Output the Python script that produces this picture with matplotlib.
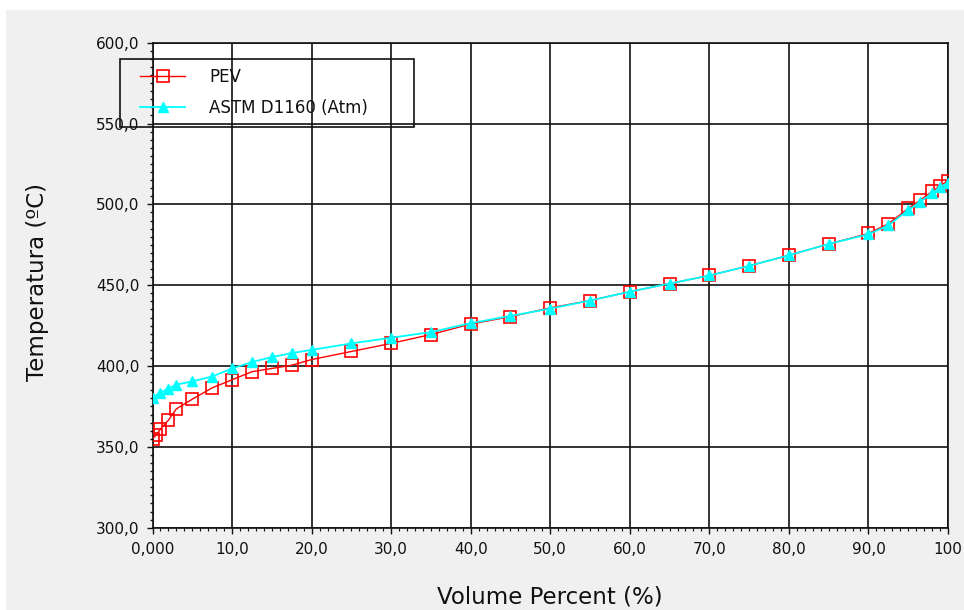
import numpy as np
import matplotlib
matplotlib.use('Agg')
import matplotlib.pyplot as plt
from matplotlib.patches import Rectangle
from matplotlib.ticker import MultipleLocator

# PEV (TBP) curve - volume percent vs temperature
pev_x = [0, 0.5, 1, 2, 3, 5, 7.5, 10, 12.5, 15, 17.5, 20, 25, 30, 35, 40, 45,
         50, 55, 60, 65, 70, 75, 80, 85, 90, 92.5, 95, 96.5, 98, 99, 100]
pev_t = [355, 357.5, 361, 366.5, 373.5, 379.5, 386.5, 391.5, 396.5, 398.5, 400.5,
         404, 409, 414, 419.5, 426, 430.5, 436, 440.5, 446, 451, 456, 462,
         468.5, 475.5, 482, 488, 497.5, 502.5, 508, 511.5, 514.5]

# ASTM D1160 (Atm) curve
astm_x = [0, 1, 2, 3, 5, 7.5, 10, 12.5, 15, 17.5, 20, 25, 30, 35, 40, 45,
          50, 55, 60, 65, 70, 75, 80, 85, 90, 92.5, 95, 96.5, 98, 99, 100]
astm_t = [380.5, 383.5, 386, 388.5, 390.5, 393.5, 398.5, 402.5, 405.5, 408, 410,
          414, 417.5, 421, 426.5, 431, 435.5, 440.5, 446, 451, 456, 462,
          468.5, 475.5, 481.5, 487, 496.5, 501.5, 507, 510.5, 513.5]

x_ticks = [0, 10, 20, 30, 40, 50, 60, 70, 80, 90, 100]
x_ticklabels = ['0,000', '10,0', '20,0', '30,0', '40,0', '50,0', '60,0',
                '70,0', '80,0', '90,0', '100']
y_ticks = [300, 350, 400, 450, 500, 550, 600]
y_ticklabels = ['300,0', '350,0', '400,0', '450,0', '500,0', '550,0', '600,0']

W, H = 964, 610
plt.rcParams['font.family'] = ['DejaVu Sans']

fig = plt.figure(figsize=(W / 100, H / 100), dpi=100, facecolor='#f0f0f0')

# thin white strips on top and left, like the screenshot
fig.patches.append(Rectangle((0, 1 - 10 / H), 1, 10 / H, transform=fig.transFigure,
                             facecolor='white', edgecolor='none', zorder=-1))
fig.patches.append(Rectangle((0, 0), 6 / W, 1, transform=fig.transFigure,
                             facecolor='white', edgecolor='none', zorder=-1))

ax = fig.add_axes([152.5 / W, 1 - 527.7 / H, (948 - 152.5) / W, (527.7 - 42.7) / H])
ax.set_facecolor('white')

ax.plot(pev_x, pev_t, color='#ff0000', lw=1.0, marker='s', markersize=8.5,
        markerfacecolor='none', markeredgecolor='#ff0000', markeredgewidth=1.2,
        label='PEV', zorder=3)
ax.plot(astm_x, astm_t, color='#00ffff', lw=1.3, marker='^', markersize=7.5,
        markerfacecolor='#00ffff', markeredgecolor='#00ffff',
        label='ASTM D1160 (Atm)', zorder=4)

ax.set_xlim(0, 100)
ax.set_ylim(300, 600)
ax.set_xticks(x_ticks)
ax.set_xticklabels(x_ticklabels)
ax.set_yticks(y_ticks)
ax.set_yticklabels(y_ticklabels)
ax.xaxis.set_minor_locator(MultipleLocator(1))
ax.yaxis.set_minor_locator(MultipleLocator(5))

ax.grid(True, which='major', color='#111111', lw=1.2)
ax.set_axisbelow(True)
for s in ax.spines.values():
    s.set_color('#111111')
    s.set_linewidth(1.2)

ax.tick_params(axis='y', which='major', length=4.5, width=1, pad=5, labelsize=11, colors='#111111')
ax.tick_params(axis='y', which='minor', length=2.2, width=1, colors='#111111')
ax.tick_params(axis='x', which='major', length=4, width=1, pad=6, labelsize=11, colors='#111111')
ax.tick_params(axis='x', which='minor', length=2, width=0.8, colors='#111111')

# axis titles
fig.text(550 / W, 1 - 597 / H, 'Volume Percent (%)', ha='center', va='center',
         fontsize=16.5, color='#111111')
fig.text(38 / W, 1 - 282 / H, 'Temperatura (ºC)', ha='center', va='center',
         rotation=90, fontsize=16.5, color='#111111')

# legend box and entries
ax.add_patch(Rectangle((120 / W, 1 - 127 / H), (414 - 120) / W, (127 - 59) / H,
                       transform=fig.transFigure, facecolor='none', clip_on=False,
                       edgecolor='#111111', lw=1.2, zorder=5))
leg = ax.legend(loc='upper left', bbox_to_anchor=(140 / W, 1 - 68 / H),
                bbox_transform=fig.transFigure, frameon=False, fontsize=12,
                handlelength=2.7, handletextpad=1.45, borderpad=0,
                borderaxespad=0, labelspacing=0.8, numpoints=1)
for t in leg.get_texts():
    t.set_color('#111111')

fig.savefig('out.png', dpi=100, facecolor=fig.get_facecolor())
